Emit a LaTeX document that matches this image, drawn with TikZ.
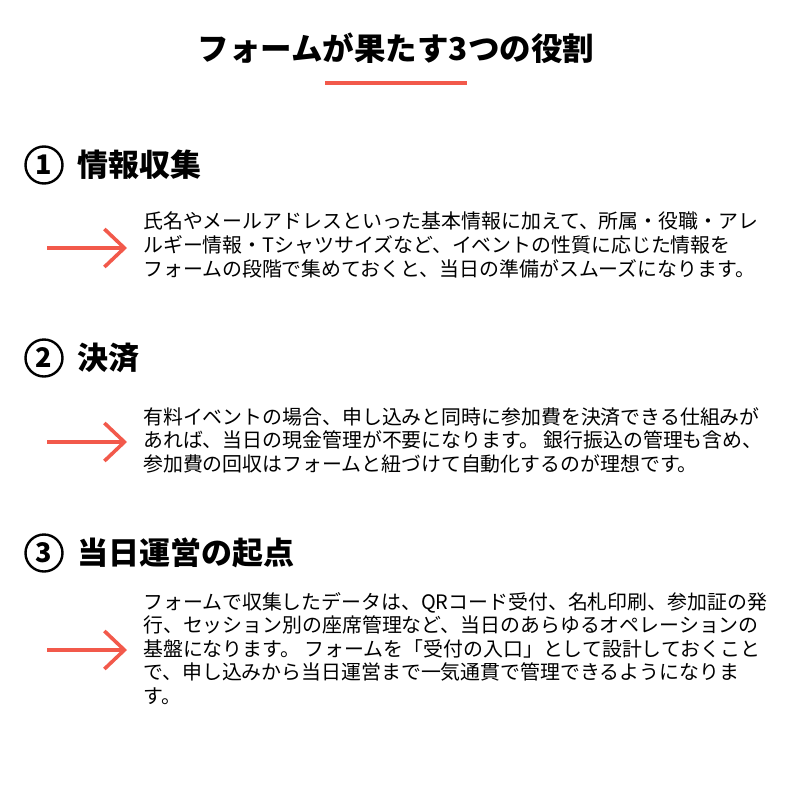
\documentclass[tikz,border=0pt]{standalone}
\usepackage{fontspec}
\setmainfont{Noto Sans CJK JP}
\usepackage{xcolor}
\usetikzlibrary{arrows.meta,positioning}
\definecolor{accent}{HTML}{F2594B}
\tikzset{
  heading/.style={anchor=west, font=\bfseries\fontsize{31}{34}\selectfont, inner sep=0pt},
  numcircle/.style={circle, draw, line width=2.4pt, minimum size=37pt, inner sep=0pt, font=\bfseries\fontsize{27}{29}\selectfont},
  bodytext/.style={anchor=north west, align=left, inner sep=0pt, font=\fontsize{19.9}{23.6}\selectfont},
  pointer/.style={-{Straight Barb[length=20pt,width=38pt,line width=3.6pt]}, line width=3.6pt, accent}
}
\begin{document}
\begin{tikzpicture}[x=1pt,y=-1pt]
    \useasboundingbox (0,0) rectangle (791,790);

    % Title
    \node[font=\bfseries\fontsize{31.5}{34}\selectfont] (title) at (396,48) {フォームが果たす3つの役割};
    \draw[accent, line width=4pt] (325,83) -- (467,83);

    % Section 1
    \node[numcircle] (n1) at (44,165) {1};
    \node[heading, right=14pt of n1] (h1) {情報収集};
    \coordinate (a1s) at (47,248);
    \coordinate (a1e) at (127,248);
    \draw[pointer] (a1s) -- (a1e);
    \node[bodytext] (t1) at (143,212) {氏名やメールアドレスといった基本情報に加えて、所属・役職・アレ\\ルギー情報・Tシャツサイズなど、イベントの性質に応じた情報を\\フォームの段階で集めておくと、当日の準備がスムーズになります。};

    % Section 2
    \node[numcircle] (n2) at (44,358) {2};
    \node[heading, right=14pt of n2] (h2) {決済};
    \coordinate (a2s) at (47,442);
    \coordinate (a2e) at (127,442);
    \draw[pointer] (a2s) -- (a2e);
    \node[bodytext] (t2) at (143,407) {有料イベントの場合、申し込みと同時に参加費を決済できる仕組みが\\あれば、当日の現金管理が不要になります。 銀行振込の管理も含め、\\参加費の回収はフォームと紐づけて自動化するのが理想です。};

    % Section 3
    \node[numcircle] (n3) at (44,553) {3};
    \node[heading, right=14pt of n3] (h3) {当日運営の起点};
    \coordinate (a3s) at (47,650);
    \coordinate (a3e) at (127,650);
    \draw[pointer] (a3s) -- (a3e);
    \node[bodytext] (t3) at (143,592) {フォームで収集したデータは、QRコード受付、名札印刷、参加証の発\\行、セッション別の座席管理など、当日のあらゆるオペレーションの\\基盤になります。 フォームを「受付の入口」として設計しておくこと\\で、申し込みから当日運営まで一気通貫で管理できるようになりま\\す。};
\end{tikzpicture}
\end{document}
